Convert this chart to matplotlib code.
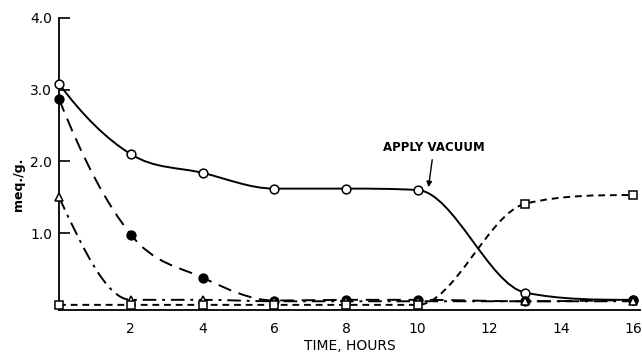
import numpy as np
import matplotlib
matplotlib.use("Agg")
import matplotlib.pyplot as plt
from matplotlib.path import Path
from matplotlib.patches import PathPatch

# hours sampled
hours = [0, 2, 4, 6, 8, 10, 13, 16]

# meq./g. for each series
open_circles = [3.08, 2.10, 1.84, 1.62, 1.62, 1.60, 0.17, 0.07]
filled_circles = [2.87, 0.98, 0.38, 0.06, 0.07, 0.07, 0.05, 0.07]
triangles = [1.50, 0.07, 0.07, 0.05, 0.05, 0.05, 0.05, 0.05]
squares = [0.0, 0.0, 0.0, 0.0, 0.0, 0.0, 1.41, 1.53]

xticks = [2, 4, 6, 8, 10, 12, 14, 16]
yticks = [1.0, 2.0, 3.0, 4.0]


def fc_slopes(x, y):
    # Fritsch-Carlson monotone tangents, 3-point ends
    x = np.asarray(x, float)
    y = np.asarray(y, float)
    h = np.diff(x)
    d = np.diff(y) / h
    m = np.zeros_like(y)
    m[0] = ((2 * h[0] + h[1]) * d[0] - h[0] * d[1]) / (h[0] + h[1])
    if np.sign(m[0]) != np.sign(d[0]):
        m[0] = 0
    m[-1] = ((2 * h[-1] + h[-2]) * d[-1] - h[-1] * d[-2]) / (h[-1] + h[-2])
    if np.sign(m[-1]) != np.sign(d[-1]):
        m[-1] = 0
    for k in range(1, len(x) - 1):
        if d[k - 1] * d[k] > 0:
            m[k] = (d[k - 1] + d[k]) / 2
    for k in range(len(d)):
        if d[k] == 0:
            m[k] = 0
            m[k + 1] = 0
            continue
        a = m[k] / d[k]
        b = m[k + 1] / d[k]
        s = a * a + b * b
        if s > 9:
            t = 3 / np.sqrt(s)
            m[k] = t * a * d[k]
            m[k + 1] = t * b * d[k]
    return m


def smooth_path(x, y):
    # bezier path through the points
    m = fc_slopes(x, y)
    verts = [(x[0], y[0])]
    codes = [Path.MOVETO]
    for k in range(len(x) - 1):
        h = x[k + 1] - x[k]
        verts += [(x[k] + h / 3, y[k] + m[k] * h / 3),
                  (x[k + 1] - h / 3, y[k + 1] - m[k + 1] * h / 3),
                  (x[k + 1], y[k + 1])]
        codes += [Path.CURVE4] * 3
    return Path(verts, codes)


fig = plt.figure(figsize=(6.42, 3.57), dpi=100)
ax = fig.add_axes([0.092, 0.132, 0.905, 0.818])

series = [
    (open_circles, "-", "o", "white"),
    (filled_circles, (0, (7, 4)), "o", "black"),
    (triangles, (0, (7, 3, 1.5, 3)), "^", "white"),
    (squares, (0, (3.5, 2.5)), "s", "white"),
]

for vals, ls, mk, fc in series:
    p = PathPatch(smooth_path(hours, vals), fill=False, edgecolor="black",
                  linewidth=1.4, linestyle=ls, zorder=2)
    ax.add_patch(p)
    ax.plot(hours, vals, linestyle="none", marker=mk, markersize=6.3,
            markerfacecolor=fc, markeredgecolor="black", markeredgewidth=1.1,
            zorder=3, clip_on=False)

ax.annotate("APPLY VACUUM", xy=(10.3, 1.64), xytext=(10.45, 2.1),
            ha="center", va="bottom", fontsize=8.5, fontweight="bold",
            arrowprops=dict(arrowstyle="-|>", color="black", lw=1,
                            mutation_scale=8, shrinkA=2, shrinkB=0))

ax.set_xlim(0, 16.2)
ax.set_ylim(-0.07, 4.0)
ax.set_xticks(xticks)
ax.set_xticklabels([str(t) for t in xticks])
ax.set_yticks(yticks)
ax.set_yticklabels(["%.1f" % v for v in yticks])
ax.tick_params(axis="x", length=0, pad=9, labelsize=10)
ax.tick_params(axis="y", direction="in", length=8, width=1.2, pad=5, labelsize=10)
ax.spines["top"].set_visible(False)
ax.spines["right"].set_visible(False)
ax.spines["left"].set_linewidth(1.3)
ax.spines["bottom"].set_linewidth(1.3)

ax.set_xlabel("TIME, HOURS", fontsize=10, labelpad=2)
ax.set_ylabel("meq./g.", fontsize=9, fontweight="bold")
ax.yaxis.set_label_coords(-0.058, 0.43)

plt.savefig("out.png", dpi=100)
